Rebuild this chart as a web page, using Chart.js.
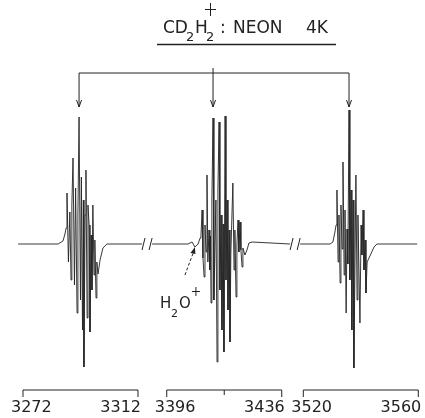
<!DOCTYPE html>
<html>
<head>
<meta charset="utf-8">
<script src="https://cdn.jsdelivr.net/npm/chart.js@4/dist/chart.umd.min.js"></script>
<style>
body { margin: 0; background: #fff; }
canvas { display: block; }
</style>
</head>
<body>
<canvas id="espectro" width="425" height="418"></canvas>
<script>
// magnetic field (G) and derivative signal, one pair per group
var field1 = [3270.3, 3284.2, 3285.9, 3286.6, 3287.0, 3287.3, 3287.8, 3288.3, 3288.7, 3289.0, 3289.4, 3289.9, 3290.3, 3290.8, 3291.1, 3291.5, 3292.0, 3292.3, 3292.7, 3293.0, 3293.2, 3293.6, 3293.9, 3294.3, 3294.6, 3295.0, 3295.3, 3295.7, 3296.0, 3296.3, 3296.7, 3297.0, 3297.4, 3297.7, 3298.1, 3298.8, 3299.8, 3301.2, 3313.4];
var signal1 = [0, 0, 3, 10, 16, 51, -18, 32, -36, 39, 86, -41, 56, -69, 29, 127, -56, 67, -86, 44, -123, 29, 74, -74, 39, 19, -88, 9, -46, 39, -31, 4, -54, -18, -30, -16, -4, 0, 0];

var field2 = [3390.9, 3403.4, 3404.8, 3405.8, 3406.9, 3407.6, 3407.9, 3408.3, 3408.6, 3409.0, 3409.3, 3409.7, 3410.0, 3410.3, 3410.7, 3411.0, 3411.2, 3411.4, 3411.7, 3412.1, 3412.4, 3413.1, 3413.5, 3413.8, 3414.2, 3414.5, 3414.9, 3415.2, 3415.6, 3415.9, 3416.3, 3416.6, 3417.0, 3417.3, 3417.7, 3418.0, 3418.3, 3419.0, 3419.4, 3419.7, 3420.1, 3420.4, 3420.8, 3421.1, 3421.5, 3421.8, 3422.2, 3422.5, 3423.2, 3423.9, 3424.6, 3425.7, 3438.9];
var signal2 = [0, 0, 2, -3, 0, 6, 8, 34, -14, -33, 19, -8, 69, -18, 14, -26, 8, -59, 44, 126, -56, 44, -118, 54, 122, -46, 29, -86, 20, -108, 128, -36, 44, -66, 14, -98, -10, 61, -26, 14, -53, -1, 24, -8, 22, -6, -23, -4, -11, -6, 1, 2, 0];

var field3 = [3518.9, 3529.3, 3530.3, 3531.0, 3531.4, 3531.7, 3532.1, 3532.4, 3532.8, 3533.1, 3533.5, 3533.8, 3534.2, 3534.5, 3534.9, 3535.2, 3535.5, 3535.9, 3536.2, 3536.6, 3536.9, 3537.3, 3537.6, 3538.3, 3538.7, 3539.0, 3539.7, 3540.1, 3540.4, 3540.8, 3541.1, 3541.5, 3541.8, 3542.2, 3543.5, 3544.6, 3545.6, 3559.6];
var signal3 = [0, 0, 2, 12, 19, 54, -18, 29, -39, 39, -5, 82, -31, 34, -69, 15, -20, 134, -36, 54, -86, 44, -124, 69, -56, 29, -79, 19, -11, 34, -26, 4, -49, -18, -10, -3, 0, 0];

// field windows shown, and the scale labels under them
var windowFrom = [3272, 3396, 3520];
var windowTo = [3312, 3436, 3560];
var tickFields = [3272, 3312, 3396, 3436, 3520, 3560];
var tickLabels = ['3272', '3312', '3396', '3436', '3520', '3560'];
var midTicks = [3416];

// line positions of the triplet (stick diagram on top)
var groupCenters = [3291.5, 3412.1, 3535.9];
var h2oField = 3405.8;

var ink = '#222';
var windowStart = [0, 50, 97.5]; // where each window begins along the drawing axis

function axisPos(f) {
    var best = 0;
    for (var i = 1; i < windowFrom.length; i++) {
        var d = Math.abs(f - (windowFrom[i] + windowTo[i]) / 2);
        var db = Math.abs(f - (windowFrom[best] + windowTo[best]) / 2);
        if (d < db) best = i;
    }
    return windowStart[best] + f - windowFrom[best];
}

function points(fields, values) {
    return fields.map(function(f, i) { return {x: axisPos(f), y: values[i]}; });
}

function traceSet(fields, values) {
    return {
        data: points(fields, values),
        borderColor: ink,
        borderWidth: 0.9,
        pointRadius: 0,
        tension: 0,
        fill: false
    };
}

var extras = {
    id: 'extras',
    afterDraw: function(chart) {
        var ctx = chart.ctx, sx = chart.scales.x, sy = chart.scales.y;
        function px(f) { return sx.getPixelForValue(axisPos(f)); }
        function py(a) { return sy.getPixelForValue(a); }
        ctx.save();
        ctx.strokeStyle = ink;
        ctx.fillStyle = ink;
        ctx.lineWidth = 1;

        // stick diagram
        var top = py(171), tip = py(137);
        ctx.beginPath();
        ctx.moveTo(px(groupCenters[0]), tip);
        ctx.lineTo(px(groupCenters[0]), top);
        ctx.lineTo(px(groupCenters[2]), top);
        ctx.lineTo(px(groupCenters[2]), tip);
        ctx.moveTo(px(groupCenters[1]), top - 5);
        ctx.lineTo(px(groupCenters[1]), tip);
        ctx.stroke();
        groupCenters.forEach(function(c) {
            var x = px(c);
            ctx.beginPath();
            ctx.moveTo(x - 2.5, tip - 7);
            ctx.lineTo(x, tip);
            ctx.lineTo(x + 2.5, tip - 7);
            ctx.stroke();
        });

        // break marks on the baseline
        var base = py(0);
        [field1[field1.length - 1], field2[0], field2[field2.length - 1], field3[0]].forEach(function(f, i) {
            var x = px(f) + (i % 2 == 0 ? 1.5 : -1.5);
            ctx.beginPath();
            ctx.moveTo(x - 1.5, base + 6);
            ctx.lineTo(x + 1.5, base - 6);
            ctx.stroke();
        });

        // field scale brackets
        var by = py(-146), bd = py(-153);
        for (var i = 0; i < windowFrom.length; i++) {
            ctx.beginPath();
            ctx.moveTo(px(windowFrom[i]), bd);
            ctx.lineTo(px(windowFrom[i]), by);
            ctx.lineTo(px(windowTo[i]), by);
            ctx.lineTo(px(windowTo[i]), bd);
            ctx.stroke();
        }
        midTicks.forEach(function(f) {
            ctx.beginPath();
            ctx.moveTo(px(f), by);
            ctx.lineTo(px(f), by + 5);
            ctx.stroke();
        });
        ctx.font = '16px "DejaVu Sans"';
        ctx.textBaseline = 'middle';
        tickFields.forEach(function(f, i) {
            if (i % 2 == 0) {
                ctx.textAlign = 'left';
                ctx.fillText(tickLabels[i], px(f) - 12, py(-164));
            } else {
                ctx.textAlign = 'right';
                ctx.fillText(tickLabels[i], px(f) + 3, py(-164));
            }
        });

        // title
        ctx.textAlign = 'left';
        ctx.textBaseline = 'alphabetic';
        ctx.font = '17px "DejaVu Sans"';
        ctx.fillText('CD', 163, 33);
        ctx.fillText('H', 195, 33);
        ctx.fillText(':', 220, 33);
        ctx.fillText('NEON', 233, 33);
        ctx.fillText('4K', 306, 33);
        ctx.font = '13px "DejaVu Sans"';
        ctx.fillText('2', 186, 41);
        ctx.fillText('2', 206, 41);
        ctx.beginPath();
        ctx.moveTo(210.5, 3); ctx.lineTo(210.5, 16);
        ctx.moveTo(205, 9.5); ctx.lineTo(216, 9.5);
        ctx.stroke();
        ctx.lineWidth = 1.3;
        ctx.beginPath();
        ctx.moveTo(157, 44.5); ctx.lineTo(336, 44.5);
        ctx.stroke();

        // H2O+ marker
        var hx = px(h2oField), hy = py(-3);
        ctx.lineWidth = 1;
        ctx.setLineDash([3, 2]);
        ctx.beginPath();
        ctx.moveTo(hx - 10, hy + 28);
        ctx.lineTo(hx - 1, hy + 4);
        ctx.stroke();
        ctx.setLineDash([]);
        ctx.beginPath();
        ctx.moveTo(hx, hy);
        ctx.lineTo(hx - 4.5, hy + 6);
        ctx.lineTo(hx + 0.5, hy + 7);
        ctx.closePath();
        ctx.fill();
        ctx.font = '15px "DejaVu Sans"';
        ctx.fillText('H', hx - 35, hy + 61);
        ctx.fillText('O', hx - 16, hy + 61);
        ctx.font = '11px "DejaVu Sans"';
        ctx.fillText('2', hx - 24, hy + 70);
        ctx.beginPath();
        ctx.moveTo(hx + 1, hy + 40); ctx.lineTo(hx + 1, hy + 49);
        ctx.moveTo(hx - 3, hy + 44.5); ctx.lineTo(hx + 5, hy + 44.5);
        ctx.stroke();
        ctx.restore();
    }
};

var ctx = document.getElementById('espectro').getContext('2d');
var chart = new Chart(ctx, {
    type: 'line',
    data: {
        datasets: [traceSet(field1, signal1), traceSet(field2, signal2), traceSet(field3, signal3)]
    },
    options: {
        responsive: false,
        animation: false,
        devicePixelRatio: 1,
        layout: { padding: 0 },
        plugins: { legend: { display: false }, tooltip: { enabled: false } },
        scales: {
            x: { type: 'linear', min: -8, max: 139.83, display: false },
            y: { min: -174, max: 244, display: false }
        }
    },
    plugins: [extras]
});
</script>
</body>
</html>
